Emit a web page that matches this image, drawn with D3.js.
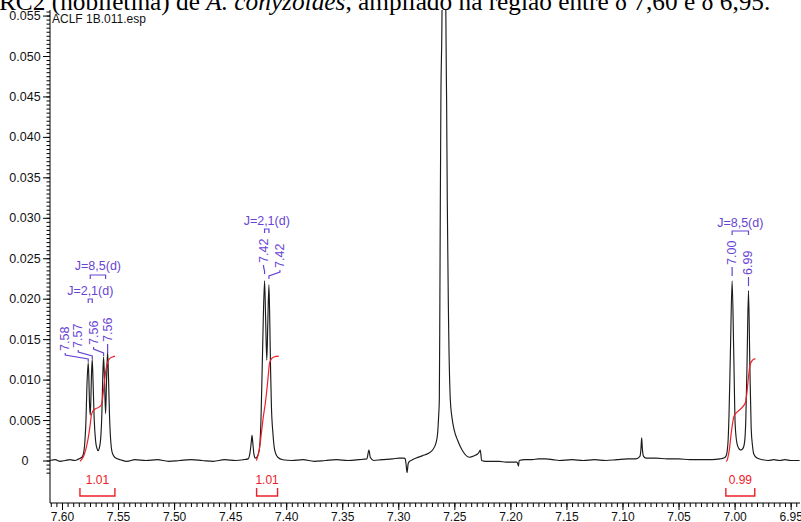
<!DOCTYPE html>
<html>
<head>
<meta charset="utf-8">
<script src="https://cdn.jsdelivr.net/npm/d3@7"></script>
<style>
  html, body { margin: 0; padding: 0; background: #fff; overflow: hidden; }
  svg { display: block; }
</style>
</head>
<body>
<svg id="chart" width="801" height="522"></svg>
<script>
// ---------------------------------------------------------------
// 1H NMR spectrum (CDCl3), aromatic region between 7.60 and 6.95 ppm
// ---------------------------------------------------------------

// axis ticks
const ppmTicks = [7.60, 7.55, 7.50, 7.45, 7.40, 7.35, 7.30, 7.25, 7.20, 7.15, 7.10, 7.05, 7.00, 6.95];
const intensityTicks = [0, 0.005, 0.010, 0.015, 0.020, 0.025, 0.030, 0.035, 0.040, 0.045, 0.050, 0.055];

// picked peaks: chemical shift (ppm) and intensity
const peakShifts  = [7.5766, 7.5730, 7.5629, 7.5593, 7.4193, 7.4154, 7.0022, 6.9876];
const peakHeights = [0.0121, 0.0125, 0.0128, 0.0134, 0.0222, 0.0217, 0.0222, 0.0210];

// trace between the picked peaks: [ppm, intensity]
const traceLowField = [
  [7.6107, 0.0000], [7.6060, 0.0001], [7.6018, -0.0001], [7.5970, 0.0000], [7.5929, 0.0001],
  [7.5884, 0.0000], [7.5850, 0.0002], [7.5822, 0.0004], [7.5804, 0.0012], [7.5795, 0.0025],
  [7.5786, 0.0050], [7.5778, 0.0090],
  [7.5760, 0.0100], [7.5755, 0.0072], [7.5748, 0.0056], [7.5742, 0.0078], [7.5737, 0.0106],
  [7.5723, 0.0098], [7.5713, 0.0052], [7.5700, 0.0024], [7.5688, 0.0015], [7.5679, 0.0012],
  [7.5668, 0.0015], [7.5655, 0.0027], [7.5645, 0.0055], [7.5637, 0.0100],
  [7.5621, 0.0100], [7.5611, 0.0058], [7.5602, 0.0102],
  [7.5585, 0.0102], [7.5576, 0.0055], [7.5564, 0.0022], [7.5548, 0.0008], [7.5520, 0.0003],
  [7.5480, 0.0001], [7.5420, -0.0001], [7.5350, 0.0001], [7.5250, 0.0000], [7.5150, 0.0001],
  [7.5050, -0.0001], [7.4950, 0.0000], [7.4850, 0.0001], [7.4750, 0.0000], [7.4650, -0.0001],
  [7.4550, 0.0001], [7.4450, 0.0000], [7.4380, 0.0001]
];

const traceMiddle = [
  [7.4340, 0.0002], [7.4325, 0.0008], [7.4312, 0.0022], [7.4305, 0.0031], [7.4298, 0.0022],
  [7.4288, 0.0008], [7.4275, 0.0003], [7.4258, 0.0005], [7.4240, 0.0013], [7.4225, 0.0050],
  [7.4210, 0.0140],
  [7.4184, 0.0178], [7.4173, 0.0124], [7.4164, 0.0170],
  [7.4146, 0.0168], [7.4139, 0.0110], [7.4132, 0.0068], [7.4118, 0.0033], [7.4103, 0.0013],
  [7.4075, 0.0004], [7.4030, 0.0001], [7.3950, 0.0000], [7.3850, 0.0001], [7.3750, -0.0001],
  [7.3650, 0.0000], [7.3550, 0.0001], [7.3450, 0.0000], [7.3350, 0.0001], [7.3280, 0.0002],
  [7.3262, 0.0013], [7.3250, 0.0004], [7.3220, 0.0000], [7.3150, 0.0001], [7.3050, 0.0002],
  [7.2990, 0.0003], [7.2950, 0.0003]
];

// residual CHCl3 signal (off scale) and its surroundings
const traceSolvent = [
  [7.2938, 0.0002], [7.2931, -0.0004], [7.2922, -0.0015], [7.2912, -0.0004], [7.2900, -0.0001],
  [7.2886, 0.0000], [7.2840, 0.0003], [7.2783, 0.0006], [7.2730, 0.0009], [7.2694, 0.0013],
  [7.2663, 0.0022], [7.2649, 0.0034], [7.2640, 0.0055], [7.2634, 0.0075], [7.2629, 0.0198],
  [7.2625, 0.0321], [7.2620, 0.0445], [7.2610, 0.0556], [7.2602, 0.0900], [7.2592, 0.1500],
  [7.2583, 0.0900], [7.2576, 0.0556], [7.2569, 0.0445], [7.2563, 0.0321], [7.2554, 0.0198],
  [7.2536, 0.0075], [7.2521, 0.0053], [7.2500, 0.0037], [7.2471, 0.0025], [7.2427, 0.0012],
  [7.2367, 0.0004], [7.2320, 0.0006], [7.2293, 0.0008], [7.2280, 0.0010], [7.2269, 0.0013],
  [7.2262, 0.0006], [7.2257, 0.0000], [7.2218, -0.0001], [7.2150, -0.0001], [7.2100, -0.0001],
  [7.2040, -0.0002], [7.1984, -0.0002], [7.1945, -0.0002], [7.1937, -0.0003], [7.1928, -0.0007],
  [7.1922, 0.0000], [7.1870, 0.0001], [7.1806, 0.0001], [7.1750, 0.0002], [7.1684, 0.0002],
  [7.1620, 0.0001], [7.1565, 0.0000]
];

const traceHighField = [
  [7.1450, 0.0001], [7.1350, 0.0000], [7.1250, 0.0001], [7.1150, 0.0000], [7.1050, 0.0001],
  [7.0950, 0.0002], [7.0880, 0.0002], [7.0845, 0.0005], [7.0835, 0.0015], [7.0829, 0.0028],
  [7.0823, 0.0015], [7.0812, 0.0005], [7.0790, 0.0003], [7.0700, 0.0003], [7.0600, 0.0002],
  [7.0500, 0.0002], [7.0400, 0.0001], [7.0300, 0.0001], [7.0200, 0.0001], [7.0130, 0.0002],
  [7.0096, 0.0003], [7.0075, 0.0006], [7.0060, 0.0020], [7.0050, 0.0055], [7.0037, 0.0136],
  [7.0008, 0.0136], [6.9995, 0.0045], [6.9980, 0.0022], [6.9963, 0.0015], [6.9945, 0.0013],
  [6.9925, 0.0015], [6.9910, 0.0024], [6.9900, 0.0050], [6.9889, 0.0120],
  [6.9864, 0.0118], [6.9852, 0.0040], [6.9840, 0.0018], [6.9829, 0.0008], [6.9800, 0.0003],
  [6.9750, 0.0001], [6.9700, 0.0000], [6.9650, 0.0001], [6.9600, 0.0000], [6.9550, 0.0001],
  [6.9500, 0.0000], [6.9420, 0.0000]
];

// couplings
const couplingLabels = ["J=8,5(d)", "J=2,1(d)", "J=2,1(d)", "J=8,5(d)"];
const couplingPairs  = [[7.5748, 7.5611], [7.5766, 7.5730], [7.4193, 7.4154], [7.0022, 6.9876]];

// integrals
const integralValues  = [1.01, 1.01, 0.99];
const integralRanges  = [[7.5840, 7.5528], [7.4264, 7.4077], [7.0078, 6.9820]];
const integralCurveH6 = [
  [7.5840, -0.0001], [7.5815, 0.0003], [7.5800, 0.0008], [7.5780, 0.0018], [7.5760, 0.0033],
  [7.5748, 0.0045], [7.5738, 0.0056], [7.5725, 0.0061], [7.5700, 0.0064], [7.5670, 0.0066],
  [7.5648, 0.0069], [7.5635, 0.0080], [7.5622, 0.0097], [7.5608, 0.0112], [7.5592, 0.0122],
  [7.5575, 0.0126], [7.5550, 0.0128], [7.5528, 0.0129]
];
const integralCurveH2 = [
  [7.4266, 0.0000], [7.4250, 0.0007], [7.4235, 0.0018], [7.4222, 0.0033], [7.4205, 0.0053],
  [7.4185, 0.0072], [7.4172, 0.0088], [7.4160, 0.0105], [7.4149, 0.0120], [7.4135, 0.0125],
  [7.4110, 0.0128], [7.4066, 0.0129]
];
const integralCurveH5 = [
  [7.0078, -0.0001], [7.0067, 0.0000], [7.0055, 0.0007], [7.0045, 0.0015], [7.0035, 0.0028],
  [7.0022, 0.0042], [7.0007, 0.0054], [6.9985, 0.0059], [6.9960, 0.0062], [6.9930, 0.0066],
  [6.9903, 0.0072], [6.9890, 0.0084], [6.9874, 0.0106], [6.9860, 0.0119], [6.9840, 0.0124],
  [6.9814, 0.0126]
];

const fileName = "ACLF 1B.011.esp";

// ---------------------------------------------------------------
// layout
// ---------------------------------------------------------------
const plot = { left: 50, right: 800, top: 10, bottom: 503 };
const zeroY = 460.5, pxPerUnit = 8090;          // vertical scale: 40.45 px per 0.005
const pxPerPpm = 56.05 / 0.05, ppmAtLeft = 7.6107;

// peak label placement: horizontal shift from the peak and y of the text start
const peakLabelLayout = [
  { dx: -23, bottom: 351 }, { dx: -14, bottom: 348 }, { dx: -10, bottom: 345 }, { dx: 0, bottom: 342 },
  { dx: -1, bottom: 263 },  { dx: 11, bottom: 268 },
  { dx: 0, bottom: 265 },   { dx: 0, bottom: 275 }
];
const couplingLayout = [
  { baseline: 270, bracket: 275 }, { baseline: 295, bracket: 299 },
  { baseline: 225, bracket: 229 }, { baseline: 227, bracket: 231 }
];

const ANNOT = "#6744d4";
const RED = "#ee2027";
const FONT = "'Liberation Sans', Arial, sans-serif";
const ANNOT_SIZE = 12.5;

const svg = d3.select("#chart");

const x = d3.scaleLinear()
  .domain([ppmAtLeft, ppmAtLeft - (plot.right - plot.left) / pxPerPpm])
  .range([plot.left, plot.right]);
const y = d3.scaleLinear()
  .domain([(zeroY - plot.bottom) / pxPerUnit, (zeroY - plot.top) / pxPerUnit])
  .range([plot.bottom, plot.top]);

// caption line above the chart (partly cut by the page edge)
const caption = svg.append("text")
  .attr("x", -1).attr("y", 9.5)
  .attr("font-family", "'Liberation Serif', 'Times New Roman', serif")
  .attr("font-size", 25.3).attr("fill", "#000");
caption.append("tspan").text("RC2 (nobiletina) de ");
caption.append("tspan").attr("font-style", "italic").text("A. conyzoides");
caption.append("tspan").text(", ampliado na região entre δ 7,60 e δ 6,95.");

// ---------------- axes ----------------
const xMinor = d3.range(0, 134).map(i => +(7.610 - i * 0.005).toFixed(3))
  .filter(v => x(v) >= plot.left && x(v) <= plot.right);
svg.append("g")
  .attr("transform", `translate(0,${plot.bottom})`)
  .call(d3.axisBottom(x).tickValues(xMinor).tickSize(4).tickFormat("").tickSizeOuter(0))
  .call(g => g.select(".domain").remove())
  .call(g => g.selectAll("line").attr("stroke", "#000"));
svg.append("g")
  .attr("transform", `translate(0,${plot.bottom})`)
  .call(d3.axisBottom(x).tickValues(ppmTicks).tickSize(7).tickSizeOuter(0).tickFormat(d3.format(".2f")))
  .call(g => g.select(".domain").attr("stroke", "#000").attr("d", `M${plot.left},0H${plot.right}`))
  .call(g => g.selectAll("text").attr("font-family", FONT).attr("font-size", 12)
    .attr("fill", "#111").attr("y", 9))
  .call(g => g.selectAll("line").attr("stroke", "#000"));

const yMinor = d3.range(-3, 112).map(i => +(i * 0.0005).toFixed(4));
svg.append("g")
  .attr("transform", `translate(${plot.left},0)`)
  .call(d3.axisLeft(y).tickValues(yMinor).tickSize(3.5).tickFormat("").tickSizeOuter(0))
  .call(g => g.select(".domain").remove())
  .call(g => g.selectAll("line").attr("stroke", "#000"));
svg.append("g")
  .attr("transform", `translate(${plot.left},0)`)
  .call(d3.axisLeft(y).tickValues(intensityTicks).tickSize(7).tickSizeOuter(0)
    .tickFormat(d => d === 0 ? "0" : d3.format(".3f")(d)))
  .call(g => g.select(".domain").attr("stroke", "#000").attr("d", `M0,${plot.top}V${plot.bottom}`))
  .call(g => g.selectAll("text").attr("font-family", FONT).attr("font-size", 12.5)
    .attr("fill", "#111").attr("x", -25).attr("text-anchor", "middle"))
  .call(g => g.selectAll("line").attr("stroke", "#000"));

svg.append("text")
  .attr("x", plot.left + 2).attr("y", 23)
  .attr("font-family", FONT).attr("font-size", 12).attr("fill", "#111")
  .text(fileName);

// ---------------- spectrum ----------------
svg.append("clipPath").attr("id", "plotClip")
  .append("rect")
  .attr("x", plot.left).attr("y", plot.top)
  .attr("width", plot.right - plot.left + 1).attr("height", plot.bottom - plot.top);

const peakPoints = peakShifts.map((p, i) => [p, peakHeights[i]]);
const trace = [...traceLowField, ...traceMiddle, ...traceSolvent, ...traceHighField, ...peakPoints]
  .sort((a, b) => b[0] - a[0]);

const line = d3.line().x(d => x(d[0])).y(d => y(d[1])).curve(d3.curveMonotoneX);

svg.append("path")
  .datum(trace)
  .attr("clip-path", "url(#plotClip)")
  .attr("fill", "none").attr("stroke", "#1b1b1b").attr("stroke-width", 1.15)
  .attr("stroke-linejoin", "round")
  .attr("d", line);

// ---------------- integrals ----------------
const integralCurves = [integralCurveH6, integralCurveH2, integralCurveH5];
svg.append("g").selectAll("path")
  .data(integralCurves).join("path")
  .attr("fill", "none").attr("stroke", RED).attr("stroke-width", 1.2)
  .attr("d", line);

const integ = svg.append("g");
integralRanges.forEach((r, i) => {
  const x1 = x(r[0]), x2 = x(r[1]);
  integ.append("path")
    .attr("fill", "none").attr("stroke", RED).attr("stroke-width", 1.4)
    .attr("d", `M${x1},488V496H${x2}V488`);
  integ.append("text")
    .attr("x", (x1 + x2) / 2).attr("y", 484)
    .attr("text-anchor", "middle")
    .attr("font-family", FONT).attr("font-size", 12).attr("fill", RED)
    .text(integralValues[i].toFixed(2));
});

// ---------------- peak labels ----------------
const ann = svg.append("g");
peakShifts.forEach((p, i) => {
  const lay = peakLabelLayout[i];
  const px = x(p), lx = px + lay.dx, b = lay.bottom;
  const pts = lay.dx === 0
    ? [[px, b + 2], [px, b + 11]]
    : [[lx, b + 2], [lx, b + 4], [px, b + 8], [px, b + 11]];
  ann.append("path")
    .attr("fill", "none").attr("stroke", ANNOT).attr("stroke-width", 1.2)
    .attr("d", d3.line()(pts));
  ann.append("text")
    .attr("transform", `translate(${lx},${b}) rotate(-90)`)
    .attr("dominant-baseline", "central")
    .attr("font-family", FONT).attr("font-size", ANNOT_SIZE).attr("fill", ANNOT)
    .text(p.toFixed(2));
});

// coupling brackets
couplingPairs.forEach((pair, i) => {
  const lay = couplingLayout[i];
  const x1 = x(pair[0]), x2 = x(pair[1]);
  ann.append("path")
    .attr("fill", "none").attr("stroke", ANNOT).attr("stroke-width", 1.2)
    .attr("d", `M${x1},${lay.bracket + 4}V${lay.bracket}H${x2}V${lay.bracket + 4}`);
  ann.append("text")
    .attr("x", (x1 + x2) / 2).attr("y", lay.baseline)
    .attr("text-anchor", "middle")
    .attr("font-family", FONT).attr("font-size", ANNOT_SIZE).attr("fill", ANNOT)
    .text(couplingLabels[i]);
});
</script>
</body>
</html>
